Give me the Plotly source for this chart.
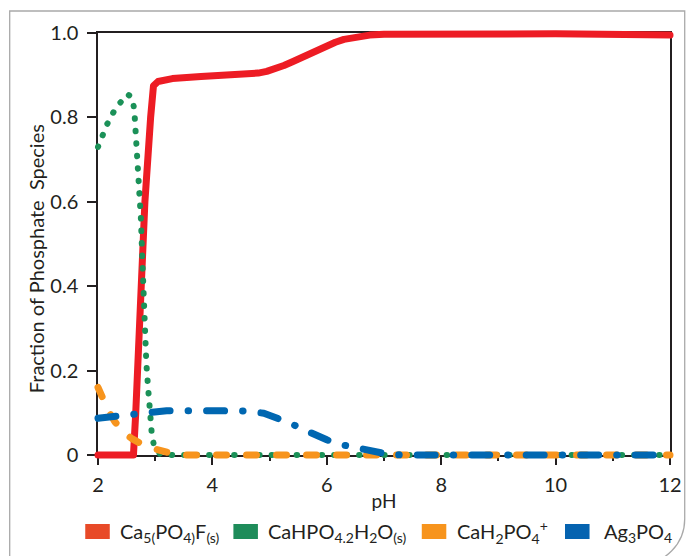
import plotly.graph_objects as go

# ---- data: fraction of phosphate species vs pH ----
ph_fluorapatite = [2.0, 2.62, 2.66, 2.70, 2.74, 2.82, 2.92, 2.97, 3.05, 3.3, 3.8, 4.3, 4.6,
                   4.8, 4.95, 5.1, 5.25, 5.4, 5.55, 5.7, 5.85, 6.0, 6.15, 6.3,
                   6.5, 6.75, 7.0, 8.0, 10.0, 12.0]
frac_fluorapatite = [0.0, 0.0, 0.10, 0.25, 0.40, 0.60, 0.80, 0.875, 0.885, 0.892, 0.897, 0.90,
                     0.902, 0.905, 0.909, 0.915, 0.923, 0.932, 0.942, 0.952, 0.962, 0.971,
                     0.978, 0.985, 0.991, 0.995, 0.997, 0.998, 0.998, 0.995]

ph_brushite = [2.0, 2.08, 2.16, 2.26, 2.37, 2.52, 2.60, 2.635, 2.65, 2.68, 2.72, 2.75,
               2.78, 2.80, 2.82, 2.845, 2.875, 2.90, 2.94, 2.98, 3.08, 3.3, 12.0]
frac_brushite = [0.73, 0.758, 0.784, 0.81, 0.832, 0.855, 0.846, 0.817, 0.787, 0.73, 0.67, 0.56,
                 0.445, 0.36, 0.277, 0.218, 0.161, 0.104, 0.05, 0.021, 0.003, 0.0, 0.0]

ph_cah2po4 = [2.0, 2.1, 2.2, 2.3, 2.4, 2.5, 2.6, 2.72, 2.85, 3.0, 3.15, 3.3, 3.5, 12.0]
frac_cah2po4 = [0.16, 0.128, 0.10, 0.078, 0.062, 0.048, 0.038, 0.028, 0.02, 0.014, 0.008,
                0.003, 0.0, 0.0]

ph_ag3po4 = [2.0, 2.3, 2.6, 2.85, 3.2, 4.0, 4.6, 4.9, 5.1, 5.35, 5.6, 5.8, 6.0, 6.2, 6.45,
             6.7, 6.85, 7.1, 7.4, 12.0]
frac_ag3po4 = [0.087, 0.092, 0.098, 0.103, 0.105, 0.105, 0.104, 0.099, 0.09, 0.076, 0.06,
               0.047, 0.036, 0.026, 0.018, 0.01, 0.006, 0.001, 0.0, 0.0]

legend_labels = [
    "Ca<sub>5(</sub>PO<sub>4)</sub>F<sub>(s)</sub>",
    "CaHPO<sub>4.2</sub>H<sub>2</sub>O<sub>(s)</sub>",
    "CaH<sub>2</sub>PO<sub>4</sub><sup>+</sup>",
    "Ag<sub>3</sub>PO<sub>4</sub>",
]

x_ticks = [2, 4, 6, 8, 10, 12]
y_ticks = [0, 0.2, 0.4, 0.6, 0.8, 1.0]
y_tick_text = ["0", "0.2", "0.4", "0.6", "0.8", "1.0"]

# ---- styling ----
INK = "#231f20"
FONT = "Lato"
W, H = 694, 556
ML, MR, MT, MB = 98, 13, 33, 101
PW, PH = W - ML - MR, H - MT - MB


def px(x):
    return (x - ML) / PW


def py(y):
    return (H - MB - y) / PH


traces = [
    (ph_fluorapatite, frac_fluorapatite, "#ed1c24", 7, "solid"),
    (ph_brushite, frac_brushite, "#1b9158", 6, "0.5px,12px"),
    (ph_cah2po4, frac_cah2po4, "#f7941d", 7, "10px,20px"),
    (ph_ag3po4, frac_ag3po4, "#0067b1", 7, "18px,18px,0.5px,18px"),
]
legend_colors = ["#e84a28", "#1e8c5a", "#f7941d", "#0563b0"]

fig = go.Figure()
for (xs, ys, color, width, dash), name in zip(traces, legend_labels):
    fig.add_trace(go.Scatter(x=xs, y=ys, mode="lines", name=name, showlegend=False,
                             line=dict(color=color, width=width, dash=dash)))

shapes = []
annotations = []

# legend swatches and labels along the bottom
swatch_left = [85, 236, 428, 574]
label_left = [118, 269, 462, 612]
for sx, lx, color, label in zip(swatch_left, label_left, legend_colors, legend_labels):
    shapes.append(dict(type="rect", xref="paper", yref="paper",
                       x0=px(sx), x1=px(sx + 25), y0=py(539), y1=py(524),
                       fillcolor=color, line=dict(width=0)))
    annotations.append(dict(text=label, xref="paper", yref="paper", x=px(lx), y=py(532),
                            xanchor="left", yanchor="middle", showarrow=False,
                            font=dict(family=FONT, size=20, color=INK)))

# y axis title
annotations.append(dict(text="Fraction of Phosphate&nbsp; Species", xref="paper", yref="paper",
                        x=px(35), y=py(259), textangle=-90, xanchor="center", yanchor="middle",
                        showarrow=False, font=dict(family=FONT, size=20, color=INK)))

# outer frame with a rounded lower-right corner
r = 45
k = 0.5523 * r
cx, cy = 651, 519
right, bottom = cx + r, cy + r
pts = (f"M {px(8)},{py(bottom + 20)} L {px(8)},{py(11)} L {px(right)},{py(11)} "
       f"L {px(right)},{py(cy)} "
       f"C {px(right)},{py(cy + k)} {px(cx + k)},{py(bottom)} {px(cx)},{py(bottom)} "
       f"L {px(0)},{py(bottom)}")
shapes.append(dict(type="path", xref="paper", yref="paper", path=pts,
                   line=dict(color="#a9a9a9", width=1.3), layer="below"))

fig.update_layout(
    width=W, height=H,
    margin=dict(l=ML, r=MR, t=MT, b=MB, pad=0),
    paper_bgcolor="white", plot_bgcolor="white",
    font=dict(family=FONT, color=INK),
    shapes=shapes, annotations=annotations,
    showlegend=False,
)
fig.update_xaxes(
    range=[2, 12], tickvals=x_ticks, ticks="outside", ticklen=8, tickwidth=1.5,
    tickcolor=INK, showline=True, linecolor=INK, linewidth=1.5, mirror=True,
    showgrid=False, zeroline=False, layer="below traces", ticklabelstandoff=3,
    tickfont=dict(family=FONT, size=20, color=INK),
    minor=dict(dtick=1, ticks="outside", ticklen=4, tickwidth=1.5, tickcolor=INK),
    title=dict(text="pH", font=dict(family=FONT, size=19, color=INK), standoff=0),
)
fig.update_yaxes(
    range=[0, 1], tickvals=y_ticks, ticktext=y_tick_text, ticks="outside", ticklen=9,
    tickwidth=1.5, tickcolor=INK, showline=True, linecolor=INK, linewidth=1.5, mirror=True,
    showgrid=False, zeroline=False, layer="below traces", ticklabelstandoff=5,
    tickfont=dict(family=FONT, size=20, color=INK),
)

# rounded line caps for the dotted/dashed curves, and let thick lines spill past the frame
post = """
var s = document.createElement('style');
s.textContent = '.scatterlayer .js-line{stroke-linecap:round;stroke-linejoin:round;}';
document.head.appendChild(s);
document.querySelectorAll('.cartesianlayer [clip-path]').forEach(function(e){e.removeAttribute('clip-path');});
"""
fig.write_html("out.html", post_script=post)
